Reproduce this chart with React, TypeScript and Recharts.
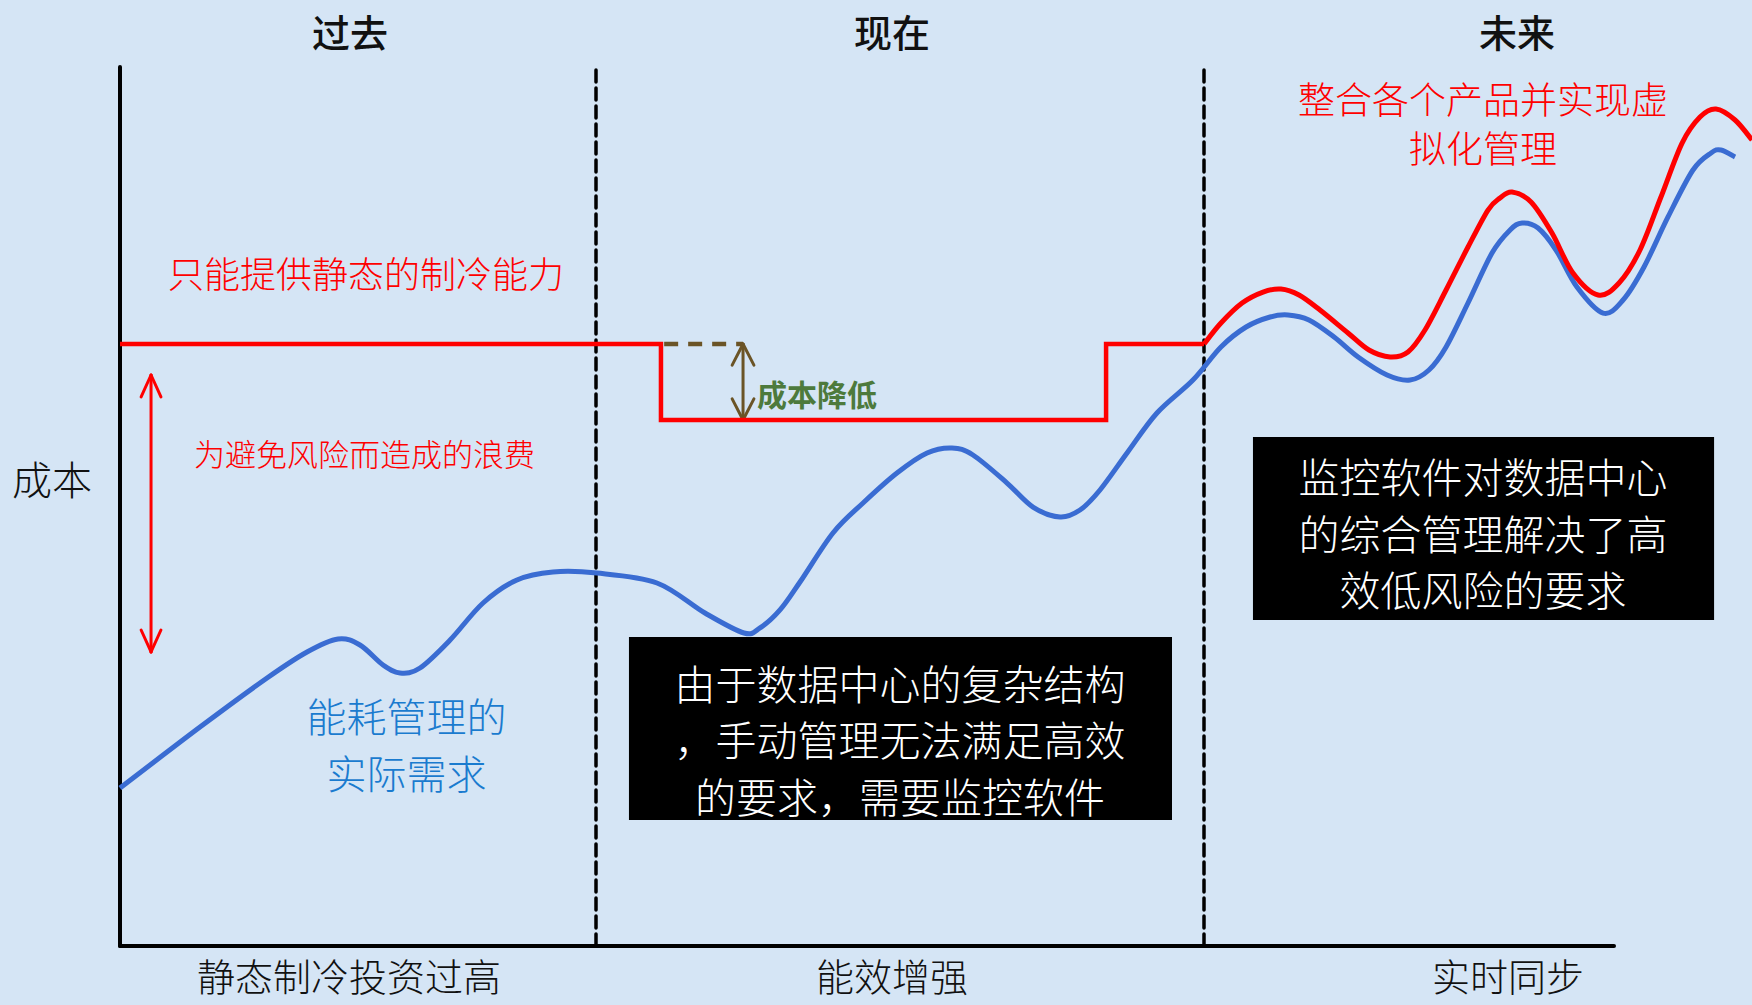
import React from 'react';
import {
  ComposedChart,
  Line,
  XAxis,
  YAxis,
  ReferenceLine,
  ReferenceArea,
  ReferenceDot,
} from 'recharts';

// ---------- chart geometry (data units: time t, cost c) ----------
const CHART_W = 1752;
const CHART_H = 1005;
const X_DOMAIN: [number, number] = [-7.5, 102];
const Y_DOMAIN: [number, number] = [-6.712, 107.622];
const AXIS_T_END = 93.375;
const AXIS_C_TOP = 100;

// ---------- categories / labels ----------
const periodLabels = ['过去', '现在', '未来'];
const periodLabelT = [14.375, 48.25, 87.31];
const stageLabels = ['静态制冷投资过高', '能效增强', '实时同步'];
const stageLabelT = [14.31, 48.25, 86.75];
const periodBoundaries = [29.75, 67.75];

// ---------- series: actual energy demand (blue) ----------
const demandT = [
  0, 5, 9.19, 11.69, 13.63, 15, 16.44, 17.5, 18.75, 20.63, 22.69, 24.81, 27.06,
  29.81, 33.56, 36.56, 39, 40, 41.25, 42.5, 44.56, 46.44, 48.56, 50.44, 52, 53.31,
  55.44, 57.06, 58.75, 60, 61.25, 62.94, 64.81, 67.06, 68.81, 70.38, 71.88, 73,
  74.31, 75.88, 77.38, 79.19, 80.63, 81.81, 82.88, 84.25, 85.75, 86.88, 87.63,
  88.63, 89.75, 91.06, 92.69, 93.94, 95.25, 96.75, 98.31, 99.44, 100.06, 100.94,
];
const demandCost = [
  17.97, 24.91, 30.49, 33.45, 34.93, 34.24, 31.97, 31.06, 31.63, 34.81, 39.02,
  41.64, 42.55, 42.43, 41.3, 37.88, 35.61, 36.18, 38.23, 41.41, 46.99, 50.4, 53.81,
  56.09, 56.66, 55.86, 52.67, 49.94, 48.81, 49.6, 51.88, 56.09, 60.64, 64.39,
  68.15, 70.42, 71.56, 71.79, 71.22, 69.28, 67.01, 64.96, 64.39, 65.53, 68.15,
  73.15, 78.84, 81.46, 82.25, 81.68, 79.18, 74.97, 72.01, 73.49, 77.25, 82.94,
  88.28, 90.22, 90.56, 89.76,
];

// ---------- series: cooling capacity (red) ----------
const capacityStepT = [0, 33.81, 33.81, 61.63, 61.63, 67.75];
const capacityStepCost = [68.49, 68.49, 59.84, 59.84, 68.49, 68.49];
const capacityWaveT = [
  67.75, 68.81, 70.13, 71.44, 72.56, 73.69, 75, 76.75, 78.06, 79.38, 80.5,
  81.56, 82.88, 84.25, 85.5, 86.25, 87, 88.19, 89.5, 90.81, 92.38, 93.69, 95,
  96.31, 97.63, 98.75, 99.75, 100.94, 102,
];
const capacityWaveCost = [
  68.49, 70.88, 73.15, 74.4, 74.74, 74.06, 72.35, 69.74, 67.8, 67.01, 67.58,
  70.08, 74.63, 79.52, 83.73, 85.1, 85.78, 84.64, 81.11, 76.56, 74.06, 75.43,
  79.18, 85.21, 91.35, 94.31, 95.22, 93.97, 91.7,
];

const zip = (ts: number[], cs: number[]) => ts.map((t, i) => ({ t, c: cs[i] }));
const demandData = zip(demandT, demandCost);
const capacityStepData = zip(capacityStepT, capacityStepCost);
const capacityWaveData = zip(capacityWaveT, capacityWaveCost);

// ---------- annotations ----------
const staticCapLabel = { text: '只能提供静态的制冷能力', t: 15.375, c: 76.68 };
const wasteLabel = { text: '为避免风险而造成的浪费', t: 15.28, c: 56.2 };
const wasteArrow = { t: 1.94, top: 64.96, bottom: 33.45 };
const reductionArrow = { t0: 33.81, t: 38.94, top: 68.49, bottom: 59.84 };
const reductionLabel = { text: '成本降低', t: 39.81, c: 62.91 };
const virtualLabel = { lines: ['整合各个产品并实现虚', '拟化管理'], t: 85.19, c: [96.47, 90.9] };
const demandLabel = { lines: ['能耗管理的', '实际需求'], t: 17.9, c: [26.28, 19.8] };
const box1 = {
  t1: 31.81, t2: 65.75, c1: 14.33, c2: 35.15, tc: 48.75,
  lines: ['由于数据中心的复杂结构', '，手动管理无法满足高效', '的要求，需要监控软件'],
  lc: [30.03, 23.66, 17.18],
};
const box2 = {
  t1: 70.81, t2: 99.63, c1: 37.09, c2: 57.91, tc: 85.19,
  lines: ['监控软件对数据中心', '的综合管理解决了高', '效低风险的要求'],
  lc: [53.58, 47.1, 40.73],
};
const yAxisLabel = { text: '成本', t: -4.25, c: 53.24 };
const periodLabelC = 104.2;
const stageLabelC = -3.2;

const FONT = '"Noto Sans CJK SC", "Noto Sans", sans-serif';

// Smooth Catmull-Rom curve factory (d3-style) passed to Recharts' Line `type`
const catmullRom = (context: any) => {
  let pts: [number, number][] = [];
  return {
    areaStart() {},
    areaEnd() {},
    lineStart() {
      pts = [];
    },
    point(x: number, y: number) {
      pts.push([+x, +y]);
    },
    lineEnd() {
      if (!pts.length) return;
      context.moveTo(pts[0][0], pts[0][1]);
      for (let i = 0; i < pts.length - 1; i++) {
        const p0 = pts[i - 1] || pts[i];
        const p1 = pts[i];
        const p2 = pts[i + 1];
        const p3 = pts[i + 2] || p2;
        const c1x = p1[0] + (p2[0] - p0[0]) / 6;
        const c1y = p1[1] + (p2[1] - p0[1]) / 6;
        const c2x = p2[0] - (p3[0] - p1[0]) / 6;
        const c2y = p2[1] - (p3[1] - p1[1]) / 6;
        context.bezierCurveTo(c1x, c1y, c2x, c2y, p2[0], p2[1]);
      }
    },
  };
};

const TextDot = ({
  t, c, text, size, color, weight = 300, anchor = 'middle',
}: {
  t: number; c: number; text: string; size: number; color: string; weight?: number; anchor?: 'start' | 'middle' | 'end';
}) => (
  <ReferenceDot
    x={t}
    y={c}
    r={0}
    ifOverflow="visible"
    shape={(p: any) => (
      <text
        x={p.cx}
        y={p.cy}
        textAnchor={anchor}
        dominantBaseline="central"
        fontFamily={FONT}
        fontSize={size}
        fontWeight={weight}
        fill={color}
      >
        {text}
      </text>
    )}
  />
);

const seg = (t1: number, c1: number, t2: number, c2: number, stroke: string, width: number, key: string, dash?: string) => (
  <ReferenceLine
    key={key}
    segment={[{ x: t1, y: c1 }, { x: t2, y: c2 }]}
    stroke={stroke}
    strokeWidth={width}
    strokeDasharray={dash}
    ifOverflow="visible"
    strokeLinecap="round"
  />
);

export default function App() {
  const red = '#ff0000';
  const blue = '#3a6cd2';
  const brown = '#6b5426';
  return (
    <div
      style={{
        position: 'absolute',
        left: 0,
        top: 0,
        width: CHART_W,
        height: CHART_H,
        background: '#d5e5f5',
        overflow: 'hidden',
      }}
    >
      <ComposedChart
        width={CHART_W}
        height={CHART_H}
        margin={{ top: 0, right: 0, bottom: 0, left: 0 }}
      >
        <XAxis type="number" dataKey="t" domain={X_DOMAIN} allowDataOverflow hide />
        <YAxis type="number" dataKey="c" domain={Y_DOMAIN} allowDataOverflow hide />

        {/* black text boxes */}
        <ReferenceArea x1={box1.t1} x2={box1.t2} y1={box1.c1} y2={box1.c2} fill="#000" fillOpacity={1} stroke="none" />
        <ReferenceArea x1={box2.t1} x2={box2.t2} y1={box2.c1} y2={box2.c2} fill="#000" fillOpacity={1} stroke="none" />

        {/* period boundaries */}
        {periodBoundaries.map((b, i) => seg(b, 0, b, AXIS_C_TOP, '#000', 3.5, 'pb' + i, '12 6'))}

        {/* axes */}
        {seg(0, 0, 0, AXIS_C_TOP, '#000', 4, 'yaxis')}
        {seg(0, 0, AXIS_T_END, 0, '#000', 4, 'xaxis')}

        {/* waste arrow */}
        {seg(wasteArrow.t, wasteArrow.top, wasteArrow.t, wasteArrow.bottom, red, 3, 'wa')}
        {seg(wasteArrow.t, wasteArrow.top, wasteArrow.t - 0.62, wasteArrow.top - 2.5, red, 3, 'wa1')}
        {seg(wasteArrow.t, wasteArrow.top, wasteArrow.t + 0.62, wasteArrow.top - 2.5, red, 3, 'wa2')}
        {seg(wasteArrow.t, wasteArrow.bottom, wasteArrow.t - 0.62, wasteArrow.bottom + 2.5, red, 3, 'wa3')}
        {seg(wasteArrow.t, wasteArrow.bottom, wasteArrow.t + 0.62, wasteArrow.bottom + 2.5, red, 3, 'wa4')}

        {/* reduction dashed + arrow */}
        <ReferenceLine
          segment={[{ x: reductionArrow.t0 + 0.2, y: reductionArrow.top }, { x: reductionArrow.t, y: reductionArrow.top }]}
          stroke={brown}
          strokeWidth={4.5}
          strokeDasharray="14 10"
          ifOverflow="visible"
        />
        {seg(reductionArrow.t, reductionArrow.top, reductionArrow.t, reductionArrow.bottom, brown, 3, 'ra')}
        {seg(reductionArrow.t, reductionArrow.top, reductionArrow.t - 0.68, reductionArrow.top - 2.4, brown, 3, 'ra1')}
        {seg(reductionArrow.t, reductionArrow.top, reductionArrow.t + 0.68, reductionArrow.top - 2.4, brown, 3, 'ra2')}
        {seg(reductionArrow.t, reductionArrow.bottom, reductionArrow.t - 0.68, reductionArrow.bottom + 2.4, brown, 3, 'ra3')}
        {seg(reductionArrow.t, reductionArrow.bottom, reductionArrow.t + 0.68, reductionArrow.bottom + 2.4, brown, 3, 'ra4')}

        {/* series */}
        <Line
          data={demandData}
          dataKey="c"
          type={catmullRom as any}
          stroke={blue}
          strokeWidth={5}
          dot={false}
          activeDot={false}
          isAnimationActive={false}
        />
        <Line
          data={capacityStepData}
          dataKey="c"
          type="linear"
          stroke={red}
          strokeWidth={4.5}
          dot={false}
          activeDot={false}
          isAnimationActive={false}
        />
        <Line
          data={capacityWaveData}
          dataKey="c"
          type={catmullRom as any}
          stroke={red}
          strokeWidth={5}
          dot={false}
          activeDot={false}
          isAnimationActive={false}
        />

        {/* labels */}
        {periodLabels.map((l, i) => (
          <TextDot key={'p' + i} t={periodLabelT[i]} c={periodLabelC} text={l} size={38} color="#111" weight={500} />
        ))}
        {stageLabels.map((l, i) => (
          <TextDot key={'s' + i} t={stageLabelT[i]} c={stageLabelC} text={l} size={38} color="#111" weight={300} />
        ))}
        <TextDot t={yAxisLabel.t} c={yAxisLabel.c} text={yAxisLabel.text} size={40} color="#111" weight={300} />
        <TextDot t={staticCapLabel.t} c={staticCapLabel.c} text={staticCapLabel.text} size={36} color={red} />
        <TextDot t={wasteLabel.t} c={wasteLabel.c} text={wasteLabel.text} size={31} color={red} />
        <TextDot t={reductionLabel.t} c={reductionLabel.c} text={reductionLabel.text} size={30} color="#4d7a3c" weight={700} anchor="start" />
        {virtualLabel.lines.map((l, i) => (
          <TextDot key={'v' + i} t={virtualLabel.t} c={virtualLabel.c[i]} text={l} size={37} color={red} />
        ))}
        {demandLabel.lines.map((l, i) => (
          <TextDot key={'d' + i} t={demandLabel.t} c={demandLabel.c[i]} text={l} size={40} color="#1a7bcf" />
        ))}
        {box1.lines.map((l, i) => (
          <TextDot key={'b1' + i} t={box1.tc} c={box1.lc[i]} text={l} size={41} color="#fff" />
        ))}
        {box2.lines.map((l, i) => (
          <TextDot key={'b2' + i} t={box2.tc} c={box2.lc[i]} text={l} size={41} color="#fff" />
        ))}
      </ComposedChart>
    </div>
  );
}
